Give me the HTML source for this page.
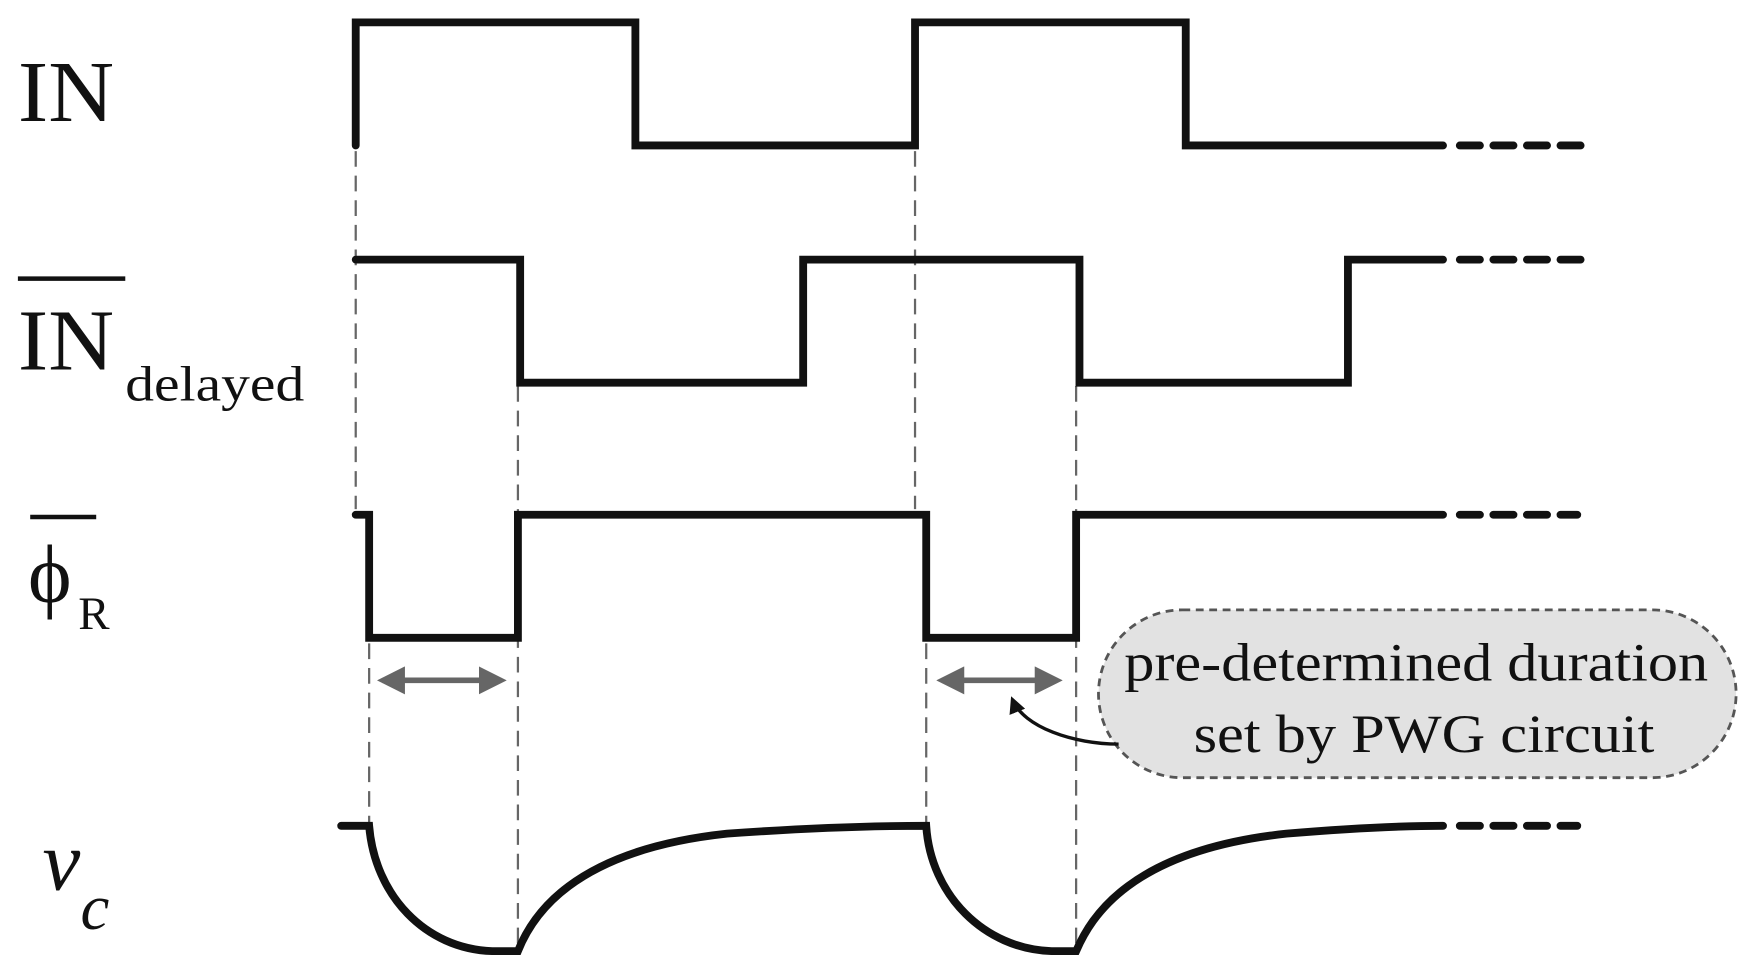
<!DOCTYPE html>
<html><head><meta charset="utf-8"><style>
html,body{margin:0;padding:0;background:#fff;}
svg{display:block;}
text{font-family:"Liberation Serif",serif;fill:#111;}
</style></head><body>
<svg width="1754" height="978" viewBox="0 0 1568 874" preserveAspectRatio="none" xmlns="http://www.w3.org/2000/svg">
<defs>
<marker id="ah" viewBox="0 0 10 10" refX="8" refY="5" markerWidth="5" markerHeight="5" orient="auto-start-reverse"><path d="M0,0 L10,5 L0,10 z" fill="#666"/></marker>
<marker id="ab" viewBox="0 0 10 10" refX="8" refY="5" markerWidth="5" markerHeight="5" orient="auto"><path d="M0,0 L10,5 L0,10 z" fill="#111"/></marker>
</defs>
<g stroke="#666" stroke-width="2" stroke-dasharray="14,8" fill="none">
<line x1="318" y1="135" x2="318" y2="455"/>
<line x1="818" y1="135" x2="818" y2="455"/>
<line x1="330" y1="575" x2="330" y2="735"/>
<line x1="828" y1="575" x2="828" y2="735"/>
<line x1="463" y1="345" x2="463" y2="850"/>
<line x1="962" y1="345" x2="962" y2="850"/>
</g>
<g stroke="#111" stroke-width="7" fill="none" stroke-linecap="round" stroke-linejoin="miter">
<polyline points="318,130 318,20 568,20 568,130 818,130 818,20 1060,20 1060,130 1290,130"/>
<polyline points="318,232 465,232 465,342 718,342 718,232 965,232 965,342 1205,342 1205,232 1290,232"/>
<polyline points="318,460 330,460 330,570 463,570 463,460 828,460 828,570 962,570 962,460 1290,460"/>
<path d="M305,738 L330,738 C335,800 380,848 440,850 L463,850 C475,820 510,760 650,745 C720,740 780,738 828,738 C832,800 880,848 940,850 L962,850 C975,820 1010,760 1150,745 C1210,740 1260,738 1290,738"/>
</g>
<g stroke="#111" stroke-width="7" stroke-dasharray="18,12" stroke-linecap="round">
<line x1="1305" y1="130" x2="1415" y2="130"/>
<line x1="1305" y1="232" x2="1415" y2="232"/>
<line x1="1305" y1="460" x2="1410" y2="460"/>
<line x1="1305" y1="738" x2="1410" y2="738"/>
</g>
<g stroke="#666" stroke-width="5">
<line x1="342" y1="608" x2="448" y2="608" marker-start="url(#ah)" marker-end="url(#ah)"/>
<line x1="842" y1="608" x2="945" y2="608" marker-start="url(#ah)" marker-end="url(#ah)"/>
</g>
<rect x="982" y="545" width="570" height="150" rx="75" ry="75" fill="#e2e2e2" stroke="#555" stroke-width="2.5" stroke-dasharray="7,5"/>
<path d="M1000,665 C960,665 915,650 905,625" fill="none" stroke="#111" stroke-width="3" marker-end="url(#ab)"/>
<text x="1005" y="608" font-size="48" textLength="522" lengthAdjust="spacingAndGlyphs">pre-determined duration</text>
<text x="1067" y="672" font-size="48" textLength="412" lengthAdjust="spacingAndGlyphs">set by PWG circuit</text>
<text x="16" y="108" font-size="78" textLength="86" lengthAdjust="spacingAndGlyphs">IN</text>
<line x1="16" y1="249" x2="112" y2="249" stroke="#111" stroke-width="4"/>
<text x="16" y="330" font-size="78" textLength="86" lengthAdjust="spacingAndGlyphs">IN</text>
<text x="112" y="358" font-size="44" textLength="160" lengthAdjust="spacingAndGlyphs">delayed</text>
<line x1="27" y1="462" x2="86" y2="462" stroke="#111" stroke-width="4"/>
<text x="25" y="538" font-size="74">ϕ</text>
<text x="70" y="562" font-size="42">R</text>
<text x="38" y="795" font-size="76" font-style="italic">v</text>
<text x="72" y="830" font-size="58" font-style="italic">c</text>
</svg>
</body></html>
